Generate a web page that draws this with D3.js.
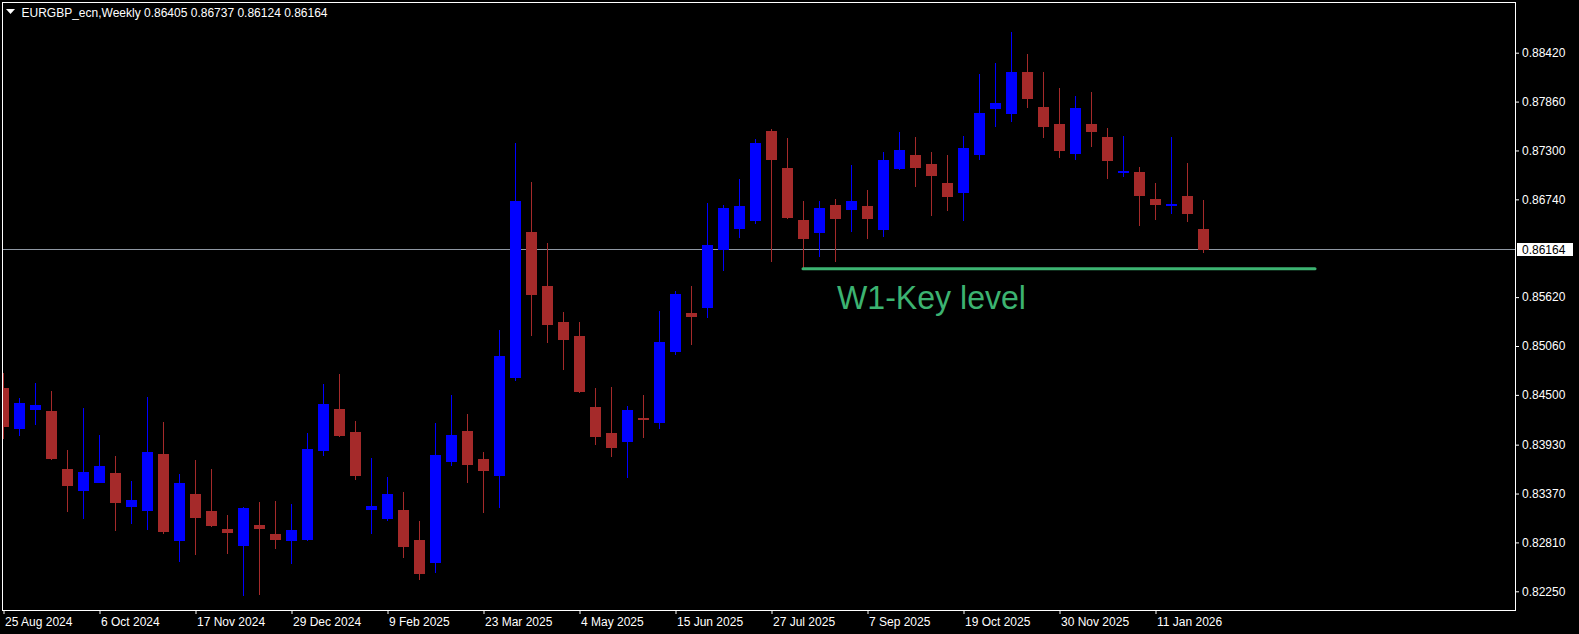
<!DOCTYPE html>
<html>
<head>
<meta charset="utf-8">
<script src="https://cdn.jsdelivr.net/npm/d3@7"></script>
<style>
  html, body { margin: 0; padding: 0; background: #000; overflow: hidden; }
  svg { display: block; }
  text { font-family: "Liberation Sans", Arial, sans-serif; }
</style>
</head>
<body>
<svg id="chart" width="1579" height="634"></svg>
<script>
// ---------------- data ----------------
const symbolTitle = "EURGBP_ecn,Weekly";
const headerValues = "0.86405 0.86737 0.86124 0.86164";
const firstWeek = "2024-08-25";

const open = [
0.84579,0.84109,0.84330,0.84315,0.83651,0.83399,0.83490,0.83605,0.83215,0.83170,
0.83823,0.82826,0.83364,0.83170,0.82964,0.82772,0.83010,0.82906,0.82826,0.82838,
0.83857,0.84339,0.84075,0.83182,0.83078,0.83182,0.82838,0.82574,0.83731,0.84086,
0.83766,0.83571,0.84697,0.86366,0.85747,0.85335,0.85174,0.84362,0.84064,0.83963,
0.84235,0.84178,0.84994,0.85438,0.85499,0.86163,0.86404,0.86495,0.87523,0.87099,
0.86503,0.86358,0.86675,0.86621,0.86664,0.86392,0.87087,0.87248,0.87145,0.86927,
0.86813,0.87248,0.87779,0.87721,0.88199,0.87798,0.87603,0.87263,0.87603,0.87455,
0.87042,0.87053,0.86744,0.86667,0.86778,0.86405];

const high = [
0.84754,0.84468,0.84640,0.84544,0.83869,0.84354,0.84041,0.83800,0.83513,0.84476,
0.84190,0.83594,0.83754,0.83651,0.83124,0.83215,0.83273,0.83285,0.83250,0.84064,
0.84625,0.84739,0.84201,0.83777,0.83559,0.83387,0.83055,0.84178,0.84499,0.84281,
0.83846,0.85244,0.87385,0.86939,0.86240,0.85449,0.85335,0.84579,0.84590,0.84376,
0.84499,0.85461,0.85690,0.85747,0.86698,0.86675,0.86973,0.87431,0.87546,0.87443,
0.86721,0.86721,0.86744,0.87134,0.86847,0.87283,0.87511,0.87455,0.87283,0.87248,
0.87466,0.88176,0.88302,0.88657,0.88405,0.88199,0.88016,0.87924,0.87970,0.87557,
0.87466,0.87111,0.86927,0.87455,0.87157,0.86737];

const low = [
0.83998,0.84033,0.84155,0.83758,0.83162,0.83078,0.83486,0.82941,0.83025,0.82956,
0.82909,0.82588,0.82669,0.82990,0.82681,0.82199,0.82211,0.82734,0.82563,0.82826,
0.83800,0.84018,0.83525,0.82906,0.83055,0.82631,0.82379,0.82459,0.83685,0.83490,
0.83147,0.83204,0.84659,0.85174,0.85098,0.84789,0.84522,0.83929,0.83791,0.83551,
0.84010,0.84112,0.84961,0.85075,0.85385,0.85923,0.86301,0.86461,0.86025,0.86518,
0.85950,0.86083,0.86025,0.86369,0.86290,0.86312,0.87076,0.86885,0.86553,0.86610,
0.86495,0.87195,0.87569,0.87630,0.87790,0.87446,0.87217,0.87195,0.87344,0.86977,
0.87000,0.86439,0.86507,0.86576,0.86484,0.86124];

const close = [
0.84135,0.84407,0.84384,0.83769,0.83460,0.83617,0.83685,0.83261,0.83296,0.83846,
0.82929,0.83490,0.83089,0.83002,0.82921,0.83204,0.82964,0.82838,0.82952,0.83880,
0.84395,0.84029,0.83571,0.83227,0.83364,0.82757,0.82448,0.83811,0.84041,0.83697,
0.83629,0.84946,0.86721,0.85648,0.85304,0.85132,0.84536,0.84021,0.83895,0.84327,
0.84216,0.85106,0.85656,0.85396,0.86217,0.86641,0.86664,0.87385,0.87195,0.86530,
0.86290,0.86641,0.86518,0.86721,0.86518,0.87191,0.87306,0.87102,0.87011,0.86770,
0.87329,0.87729,0.87844,0.88199,0.87893,0.87572,0.87298,0.87787,0.87515,0.87183,
0.87064,0.86782,0.86679,0.86690,0.86576,0.86164];

const priceTicks = [0.88420,0.87860,0.87300,0.86740,0.85620,0.85060,0.84500,0.83930,0.83370,0.82810,0.82250];
const dateTickIndex = [0,6,12,18,24,30,36,42,48,54,60,66,72];
const dateTickLabels = ["25 Aug 2024","6 Oct 2024","17 Nov 2024","29 Dec 2024","9 Feb 2025","23 Mar 2025","4 May 2025","15 Jun 2025","27 Jul 2025","7 Sep 2025","19 Oct 2025","30 Nov 2025","11 Jan 2026"];

const currentPrice = 0.86164;
const keyLevel = 0.85945;
const keyLevelFrom = 50;   // bar index where the level starts
const keyLevelTo = 82;     // bar index where the level ends
const keyLevelLabel = "W1-Key level";

// ---------------- layout ----------------
const W = 1579, H = 634;
const frame = {left: 2, top: 2, right: 1515, bottom: 610};
const bull = "#0000ff", bear = "#a52a2a", keyColor = "#3cb371";

const bars = open.map((o, i) => ({i, o, h: high[i], l: low[i], c: close[i]}));

const x = d3.scaleLinear().domain([0, 75]).range([3, 1203]);
const y = d3.scaleLinear().domain([0.82250, 0.88420]).range([591.3, 52.7]);

const svg = d3.select("#chart");
svg.append("rect").attr("width", W).attr("height", H).attr("fill", "#000");

svg.append("defs").append("clipPath").attr("id", "plotClip")
  .append("rect").attr("x", frame.left + 1).attr("y", frame.top + 1)
  .attr("width", frame.right - frame.left - 1).attr("height", frame.bottom - frame.top - 1);

const plot = svg.append("g").attr("clip-path", "url(#plotClip)");

// current price line
plot.append("rect")
  .attr("x", frame.left).attr("width", frame.right - frame.left)
  .attr("y", Math.round(y(currentPrice)) - 1).attr("height", 1)
  .attr("fill", "#8f98a3");

// candles
const g = plot.selectAll("g.bar").data(bars).join("g").attr("class", "bar");
g.append("rect")
  .attr("x", d => x(d.i))
  .attr("width", 1)
  .attr("y", d => Math.round(y(d.h)))
  .attr("height", d => Math.max(1, Math.round(y(d.l)) - Math.round(y(d.h))))
  .attr("fill", d => d.c >= d.o ? bull : bear);
g.append("rect")
  .attr("x", d => x(d.i) - 5)
  .attr("width", 11)
  .attr("y", d => Math.round(y(Math.max(d.o, d.c))))
  .attr("height", d => Math.max(1, Math.round(y(Math.min(d.o, d.c))) - Math.round(y(Math.max(d.o, d.c)))))
  .attr("fill", d => d.c >= d.o ? bull : bear);

// key level
plot.append("line")
  .attr("x1", x(keyLevelFrom)).attr("x2", x(keyLevelTo))
  .attr("y1", y(keyLevel)).attr("y2", y(keyLevel))
  .attr("stroke", keyColor).attr("stroke-width", 3).attr("stroke-linecap", "round");

plot.append("text")
  .attr("x", 837).attr("y", 309)
  .attr("fill", keyColor)
  .attr("font-size", 34)
  .attr("textLength", 189).attr("lengthAdjust", "spacingAndGlyphs")
  .text(keyLevelLabel);

// frame
svg.append("rect")
  .attr("x", frame.left + 0.5).attr("y", frame.top + 0.5)
  .attr("width", frame.right - frame.left).attr("height", frame.bottom - frame.top)
  .attr("fill", "none").attr("stroke", "#fff").attr("stroke-width", 1);

// right price axis
const yAxis = d3.axisRight(y).tickValues(priceTicks).tickSize(3).tickPadding(3)
  .tickFormat(d3.format(".5f"));
const ya = svg.append("g").attr("transform", `translate(${frame.right + 1},0)`).call(yAxis);
ya.select(".domain").remove();
ya.selectAll(".tick line").attr("stroke", "#fff");
ya.selectAll(".tick text").attr("fill", "#fff").attr("font-size", 12)
  .attr("font-family", "Liberation Sans, Arial, sans-serif");

// current price label
const cy = y(currentPrice);
svg.append("rect").attr("x", frame.right + 2).attr("y", Math.round(cy) - 7)
  .attr("width", 56).attr("height", 13).attr("fill", "#fff");
svg.append("text").attr("x", frame.right + 7).attr("y", cy + 4.5)
  .attr("fill", "#000").attr("font-size", 12).text(d3.format(".5f")(currentPrice));

// bottom date axis
const xAxis = d3.axisBottom(x).tickValues(dateTickIndex).tickSize(3)
  .tickFormat((d, k) => dateTickLabels[k]);
const xa = svg.append("g").attr("transform", `translate(0.5,${frame.bottom + 1})`).call(xAxis);
xa.select(".domain").remove();
xa.selectAll(".tick line").attr("stroke", "#fff");
xa.selectAll(".tick text").attr("fill", "#fff").attr("font-size", 12)
  .attr("font-family", "Liberation Sans, Arial, sans-serif")
  .attr("text-anchor", "start").attr("x", 1).attr("dy", null).attr("y", 15);

// header
svg.append("path").attr("d", "M6,9 L15,9 L10.5,14 Z").attr("fill", "#fff");
svg.append("text").attr("x", 21.5).attr("y", 17).attr("fill", "#fff").attr("font-size", 12).text(symbolTitle);
svg.append("text").attr("x", 144).attr("y", 17).attr("fill", "#fff").attr("font-size", 12).text(headerValues);
</script>
</body>
</html>
